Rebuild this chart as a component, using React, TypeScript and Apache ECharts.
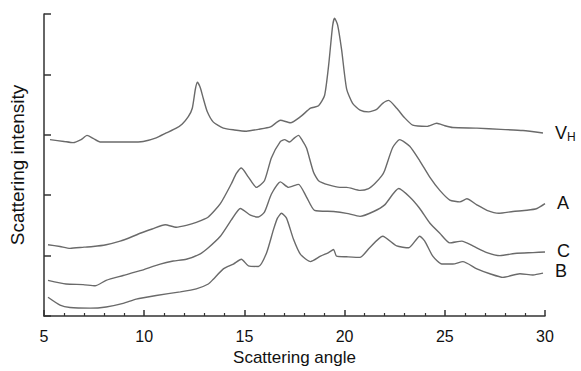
import React, { useEffect, useRef } from "react";
import * as echarts from "echarts";

const xTicks = [5, 10, 15, 20, 25, 30];

const vhData: [number, number][] = [
  [5.3, 2.92], [6.0, 2.89], [6.45, 2.87], [6.85, 2.92], [7.15, 2.99], [7.45, 2.94], [7.8, 2.88],
  [8.5, 2.88], [9.3, 2.88], [9.95, 2.89], [10.6, 2.95], [11.1, 3.03], [11.6, 3.11], [11.9, 3.18],
  [12.2, 3.3], [12.4, 3.44], [12.55, 3.75], [12.65, 3.87], [12.8, 3.78], [12.95, 3.6], [13.15, 3.38],
  [13.45, 3.21], [13.95, 3.11], [14.5, 3.08], [15.1, 3.06], [15.7, 3.09], [16.3, 3.13], [16.8, 3.24],
  [17.3, 3.2], [17.8, 3.3], [18.3, 3.44], [18.7, 3.48], [19.0, 3.65], [19.2, 4.14], [19.4, 4.8],
  [19.5, 4.93], [19.65, 4.82], [19.85, 4.41], [20.1, 3.76], [20.4, 3.52], [20.77, 3.41], [21.2, 3.38],
  [21.6, 3.42], [21.9, 3.52], [22.2, 3.57], [22.6, 3.44], [23.0, 3.28], [23.4, 3.16], [24.1, 3.14],
  [24.6, 3.19], [25.0, 3.15], [25.4, 3.12], [26.6, 3.11], [27.8, 3.09], [28.9, 3.07], [29.9, 3.03],
];

const aData: [number, number][] = [
  [5.2, 1.18], [5.8, 1.15], [6.3, 1.12], [7.0, 1.14], [7.45, 1.15], [8.1, 1.18], [8.8, 1.24],
  [9.3, 1.3], [9.8, 1.37], [10.4, 1.44], [11.05, 1.51], [11.6, 1.47], [12.1, 1.5], [12.6, 1.55],
  [13.2, 1.64], [13.8, 1.86], [14.35, 2.19], [14.6, 2.36], [14.85, 2.45], [15.2, 2.3], [15.6, 2.13],
  [16.0, 2.24], [16.35, 2.62], [16.8, 2.89], [17.0, 2.92], [17.25, 2.88], [17.5, 2.95], [17.7, 2.99],
  [17.9, 2.9], [18.1, 2.78], [18.45, 2.38], [18.7, 2.24], [19.2, 2.17], [19.77, 2.13], [20.1, 2.13],
  [20.77, 2.08], [21.2, 2.11], [21.5, 2.19], [21.85, 2.32], [22.0, 2.41], [22.4, 2.79], [22.75, 2.92],
  [23.25, 2.81], [23.75, 2.57], [24.25, 2.3], [24.75, 2.08], [25.25, 1.92], [25.75, 1.89], [26.1, 1.94],
  [26.6, 1.84], [27.1, 1.75], [27.7, 1.7], [28.4, 1.73], [29.1, 1.75], [29.6, 1.78], [30.0, 1.86],
];

const cData: [number, number][] = [
  [5.2, 0.59], [6.1, 0.53], [6.95, 0.52], [7.55, 0.5], [8.1, 0.59], [8.95, 0.67], [9.8, 0.75],
  [10.8, 0.86], [11.45, 0.91], [12.1, 0.94], [12.8, 1.03], [13.2, 1.13], [13.8, 1.32], [14.35, 1.59],
  [14.8, 1.78], [15.3, 1.67], [15.7, 1.64], [16.0, 1.72], [16.35, 2.02], [16.8, 2.22], [17.2, 2.13],
  [17.7, 2.18], [18.1, 1.97], [18.5, 1.75], [19.45, 1.73], [20.1, 1.7], [20.77, 1.65], [21.45, 1.73],
  [22.0, 1.84], [22.7, 2.11], [23.25, 1.97], [23.75, 1.78], [24.25, 1.54], [24.75, 1.37], [25.25, 1.21],
  [25.85, 1.24], [26.4, 1.16], [27.1, 1.05], [27.75, 1.0], [28.6, 1.04], [29.4, 1.05], [30.0, 1.06],
];

const bData: [number, number][] = [
  [5.2, 0.31], [5.8, 0.18], [6.3, 0.14], [7.3, 0.13], [8.1, 0.15], [8.95, 0.21], [9.6, 0.28],
  [10.6, 0.34], [11.8, 0.4], [12.6, 0.45], [13.2, 0.53], [13.45, 0.61], [13.95, 0.78], [14.45, 0.86],
  [14.85, 0.94], [15.2, 0.83], [15.7, 0.82], [16.1, 1.04], [16.45, 1.43], [16.65, 1.62], [16.85, 1.7],
  [17.1, 1.62], [17.45, 1.27], [17.8, 1.02], [18.3, 0.9], [18.8, 0.99], [19.2, 1.05], [19.45, 1.1],
  [19.6, 0.99], [20.1, 0.98], [20.77, 0.97], [21.25, 1.13], [21.9, 1.32], [22.6, 1.16], [23.2, 1.13],
  [23.75, 1.32], [24.0, 1.24], [24.4, 0.99], [24.85, 0.86], [25.4, 0.86], [25.9, 0.9], [26.6, 0.78],
  [27.25, 0.7], [27.9, 0.64], [28.75, 0.7], [29.4, 0.68], [29.9, 0.71],
];

const seriesNames = ["VH", "A", "C", "B"];
const seriesLabels = ["{v|V}{h|H}", "A", "C", "B"];
const labelOffsets: [number, number][] = [[0, 0], [0, -1], [0, -1], [0, -2]];

const FONT = "Liberation Sans, Arial, Helvetica, sans-serif";
const TEXT = "#111";

export default function App() {
  const ref = useRef<HTMLDivElement>(null);
  useEffect(() => {
    if (!ref.current) return;
    const chart = echarts.init(ref.current, undefined, { renderer: "svg" });
    const datasets = [vhData, aData, cData, bData];
    chart.setOption({
      animation: false,
      backgroundColor: "#ffffff",
      textStyle: { fontFamily: FONT },
      grid: { left: 44, right: 36, top: 14, bottom: 50, containLabel: false },
      xAxis: {
        type: "value",
        min: xTicks[0],
        max: xTicks[xTicks.length - 1],
        interval: 5,
        name: "Scattering angle",
        nameLocation: "middle",
        nameGap: 33,
        nameTextStyle: { fontSize: 17, color: TEXT, fontFamily: FONT },
        axisLine: { show: true, lineStyle: { color: "#333", width: 1.5 } },
        axisTick: { show: true, inside: true, length: 6, lineStyle: { color: "#333", width: 1.5 } },
        minorTick: { show: true, splitNumber: 5, length: 3, lineStyle: { color: "#333", width: 1.2 } },
        splitLine: { show: false },
        axisLabel: { fontSize: 16, color: TEXT, margin: 12, fontFamily: FONT },
      },
      yAxis: {
        type: "value",
        min: 0,
        max: 5,
        interval: 1,
        name: "Scattering intensity",
        nameLocation: "middle",
        nameRotate: 90,
        nameGap: 17,
        nameTextStyle: { fontSize: 19, color: TEXT, fontFamily: FONT },
        axisLine: { show: true, lineStyle: { color: "#333", width: 1.5 } },
        axisTick: { show: true, inside: true, length: 7, lineStyle: { color: "#333", width: 1.5 } },
        splitLine: { show: false },
        axisLabel: { show: false },
      },
      series: datasets.map((d, i) => ({
        name: seriesNames[i],
        type: "line",
        data: d,
        symbol: "none",
        smooth: 0.2,
        lineStyle: { color: "#6a6a6a", width: 1.4 },
        endLabel: {
          show: true,
          formatter: () => seriesLabels[i],
          distance: 12,
          offset: labelOffsets[i],
          color: TEXT,
          fontSize: 18,
          lineHeight: 16,
          fontFamily: FONT,
          rich: {
            v: { fontSize: 18, lineHeight: 16, color: TEXT, fontFamily: FONT },
            h: { fontSize: 12, lineHeight: 12, color: TEXT, fontFamily: FONT, padding: [9, 0, 0, 0] },
          },
        },
      })),
    });
    return () => chart.dispose();
  }, []);
  return (
    <div
      ref={ref}
      style={{ position: "fixed", left: 0, top: 0, width: 581, height: 371 }}
    />
  );
}
